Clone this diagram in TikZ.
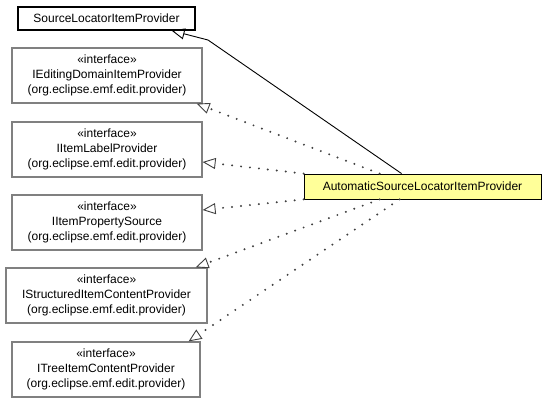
\documentclass[tikz,border=0pt]{standalone}
\usepackage{fontspec}
\setmainfont{Liberation Sans}
\usetikzlibrary{arrows.meta, calc}
\definecolor{umlyellow}{RGB}{255,255,153}
\definecolor{umlgray}{RGB}{128,128,128}
\definecolor{dotgray}{RGB}{64,64,64}

\begin{document}
\begin{tikzpicture}[
            x=1pt, y=-1pt,
            cls/.style={draw=black, line width=1.2pt, fill=white, inner sep=0pt, minimum height=23pt, align=center, font=\fontsize{12}{15}\selectfont},
            iface/.style={draw=umlgray, line width=1.2pt, fill=white, inner sep=0pt, minimum height=55pt, align=center, font=\fontsize{12}{15}\selectfont},
            self/.style={draw=black, line width=0.8pt, fill=umlyellow, inner sep=0pt, minimum width=237pt, minimum height=25pt, font=\fontsize{12}{15}\selectfont},
            extends/.style={-{Triangle[open, length=13pt, width=11pt, line width=0.9pt]}, line width=0.9pt, black},
            implements/.style={-{Triangle[open, length=13pt, width=11pt, line width=0.9pt]}, line width=2.2pt, dotgray, dash pattern=on 0pt off 9pt, line cap=round}
        ]
            \useasboundingbox (0,0) rectangle (547,401);

            \node[cls, minimum width=177pt] (src) at (106.5,18.5) {SourceLocatorItemProvider};
            \node[iface, minimum width=190pt] (edit) at (107,75.5) {«interface»\\IEditingDomainItemProvider\\(org.eclipse.emf.edit.provider)};
            \node[iface, minimum width=190pt] (label) at (107,149.5) {«interface»\\IItemLabelProvider\\(org.eclipse.emf.edit.provider)};
            \node[iface, minimum width=190pt] (prop) at (107,222.5) {«interface»\\IItemPropertySource\\(org.eclipse.emf.edit.provider)};
            \node[iface, minimum width=201pt] (struct) at (106.5,295.5) {«interface»\\IStructuredItemContentProvider\\(org.eclipse.emf.edit.provider)};
            \node[iface, minimum width=188pt] (tree) at (106,369.5) {«interface»\\ITreeItemContentProvider\\(org.eclipse.emf.edit.provider)};
            \node[self] (auto) at (422.5,186.5) {AutomaticSourceLocatorItemProvider};

            \coordinate (bend) at (208,40);
            \draw[extends] ($(auto.north west)+(98,0)$) -- (bend) -- ($(src.south east)+(-24,0)$);
            \draw[implements] ($(auto.north west)+(76,0)$) -- ($(edit.south east)+(-6,0)$);
            \draw[implements] (auto.north west) -- ($(label.east)+(0,12.5)$);
            \draw[implements] (auto.south west) -- ($(prop.east)+(0,-12.5)$);
            \draw[implements] ($(auto.south west)+(76,0)$) -- ($(struct.north east)+(-12,0)$);
            \draw[implements] ($(auto.south west)+(96,0)$) -- ($(tree.north east)+(-12,0)$);
        \end{tikzpicture}
\end{document}
